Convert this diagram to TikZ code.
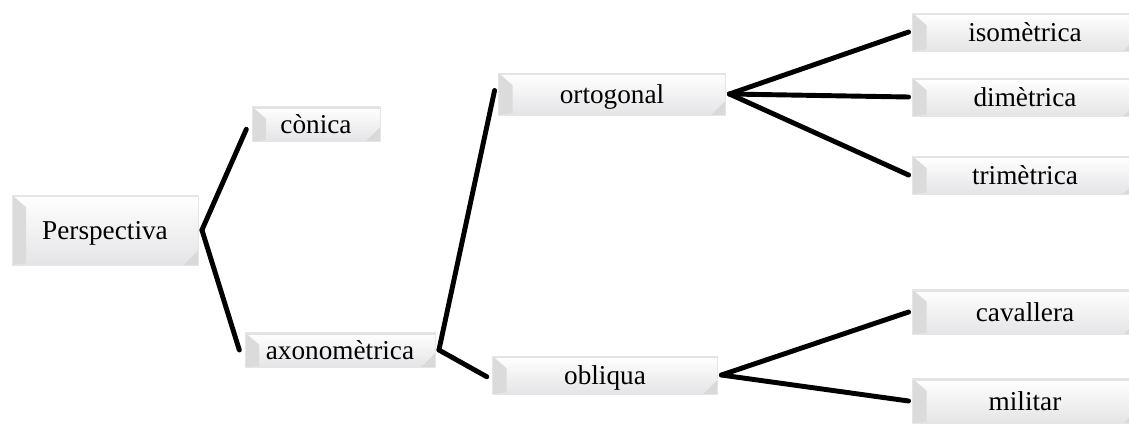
\documentclass[tikz,border=0pt]{standalone}
\usepackage{fontspec}
\setmainfont{Liberation Serif}
\usetikzlibrary{positioning}

\tikzset{
  btn/.style={draw=gray!20, line width=0.5pt, inner sep=0pt,
    top color=white, bottom color=blue!4!gray!20,
    font=\fontsize{15.5}{18}\selectfont, text height=11pt, text depth=0pt,
    path picture={
      \fill[gray!28] (path picture bounding box.north west) -- ++(8pt,-7pt)
        -- ([xshift=8pt,yshift=1pt]path picture bounding box.south west)
        -- (path picture bounding box.south west) -- cycle;
      \fill[gray!30] (path picture bounding box.south east) -- ++(-8pt,0pt)
        -- ++(8pt,8pt) -- cycle;
      \draw[gray!22, line width=2.5pt] (path picture bounding box.north west)
        -- (path picture bounding box.north east);
    }},
  link/.style={line width=2.8pt, line cap=round}
}

\begin{document}
\begin{tikzpicture}[x=0.02cm, y=-0.02cm]
  \useasboundingbox (0,0) rectangle (1129,423);

  \node[btn, minimum width=3.72cm, minimum height=1.4cm] (persp) at (105,230) {Perspectiva};
  \node[btn, minimum width=2.56cm, minimum height=0.7cm] (conica) at (316,124) {cònica};
  \node[btn, minimum width=3.8cm, minimum height=0.7cm] (axono) at (340,350) {axonomètrica};
  \node[btn, minimum width=4.54cm, minimum height=0.84cm] (ortog) at (612,94) {ortogonal};
  \node[btn, minimum width=4.5cm, minimum height=0.76cm] (obliq) at (605,375) {obliqua};

  \node[btn, minimum width=4.5cm, minimum height=0.76cm] (iso) at (1025,32) {isomètrica};
  \node[btn, minimum width=4.5cm, minimum height=0.76cm] (dim) at (1025,97) {dimètrica};
  \node[btn, minimum width=4.5cm, minimum height=0.76cm] (tri) at (1025,175) {trimètrica};
  \node[btn, minimum width=4.5cm, minimum height=0.9cm] (cav) at (1025,312) {cavallera};
  \node[btn, minimum width=4.5cm, minimum height=0.9cm] (mil) at (1025,401) {militar};

  \draw[link] ([xshift=2pt]persp.east) -- ([xshift=-3pt,yshift=-3pt]conica.west);
  \draw[link] ([xshift=2pt]persp.east) -- ([xshift=-3pt]axono.west);

  \draw[link] ([xshift=2pt]axono.east) -- ([xshift=-2pt,yshift=2pt]ortog.west);
  \draw[link] ([xshift=2pt]axono.east) -- ([xshift=-3pt,yshift=-1pt]obliq.west);

  \draw[link] ([xshift=2pt]ortog.east) -- ([xshift=-2pt]iso.west);
  \draw[link] ([xshift=2pt]ortog.east) -- ([xshift=-2pt]dim.west);
  \draw[link] ([xshift=2pt]ortog.east) -- ([xshift=-2pt]tri.west);

  \draw[link] ([xshift=2pt]obliq.east) -- ([xshift=-2pt]cav.west);
  \draw[link] ([xshift=2pt]obliq.east) -- ([xshift=-2pt]mil.west);
\end{tikzpicture}
\end{document}
